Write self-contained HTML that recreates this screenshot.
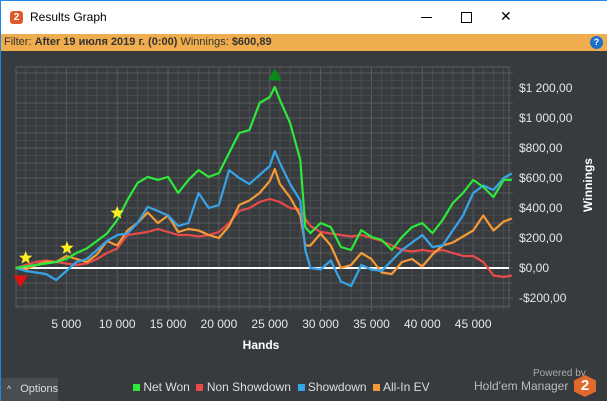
<!DOCTYPE html>
<html><head><meta charset="utf-8">
<style>
body{margin:0;width:607px;height:401px;overflow:hidden;font-family:"Liberation Sans","Noto Sans CJK SC",sans-serif;background:#383b3e;position:relative}
#title{position:absolute;left:0;top:0;width:607px;height:34px;background:#fff;border-top:1px solid #1e88e5;box-sizing:border-box}
#filter{position:absolute;left:0;top:34px;width:607px;height:17px;background:#f0ad4e;font-size:11px;line-height:17px;color:#333}
#lb{position:absolute;left:0;top:0;width:1px;height:401px;background:#1e88e5}
</style></head><body>
<div id="title">
 <div style="position:absolute;left:10px;top:10px;width:13px;height:13px;background:#e05a2b;border-radius:3px;color:#fff;font-size:10px;font-weight:bold;text-align:center;line-height:13px">2</div>
 <div style="position:absolute;left:30px;top:9px;font-size:12px;color:#000">Results Graph</div>
 <div style="position:absolute;left:421px;top:16px;width:11px;height:1px;background:#000"></div>
 <div style="position:absolute;left:461px;top:11px;width:9px;height:9px;border:1px solid #000"></div>
 <div style="position:absolute;left:500px;top:7px;font-size:14px;color:#000;font-weight:lighter">✕</div>
</div>
<div id="filter"><span style="margin-left:4px">Filter: <b>After 19 июля 2019 г. (0:00)</b> Winnings: <b>$600,89</b></span>
 <div style="position:absolute;left:590px;top:2px;width:13px;height:13px;border-radius:50%;background:#1e6fc9;color:#fff;font-size:9px;text-align:center;line-height:13px;font-weight:bold">?</div>
</div>
<div id="lb"></div>
<svg id="chart" width="607" height="401" style="position:absolute;left:0;top:0"></svg>
<div style="position:absolute;left:1px;top:378px;width:57px;height:23px;background:#4a4d50;color:#ddd;font-size:11px;line-height:23px"><span style="margin-left:6px;font-size:9px">^</span><span style="margin-left:9px">Options</span></div>
<div style="position:absolute;left:133px;top:380px;font-size:12px;color:#ddd;white-space:nowrap">
 <span><span style="display:inline-block;width:7px;height:7px;background:#2ee83a"></span> Net Won</span>&nbsp;
 <span><span style="display:inline-block;width:7px;height:7px;background:#e84a4a"></span> Non Showdown</span>&nbsp;
 <span><span style="display:inline-block;width:7px;height:7px;background:#37a3e8"></span> Showdown</span>&nbsp;
 <span><span style="display:inline-block;width:7px;height:7px;background:#f59a36"></span> All-In EV</span>
</div>
<div style="position:absolute;left:533px;top:368px;font-size:10px;color:#aaa">Powered by</div>
<div style="position:absolute;left:474px;top:379px;font-size:12px;color:#bbb">Hold'em Manager</div>
<div style="position:absolute;left:574px;top:375px;width:22px;height:22px;background:#e06a2b;color:#fff;font-weight:bold;font-size:15px;text-align:center;line-height:22px;clip-path:polygon(50% 0,100% 25%,100% 75%,50% 100%,0 75%,0 25%)">2</div>
<script>
const hands=[0,1000,2000,3000,4000,5000,6000,7000,8000,9000,10000,11000,12000,13000,14000,15000,16000,17000,18000,19000,20000,21000,22000,23000,24000,25000,25500,26000,27000,28000,28500,29000,30000,31000,32000,33000,34000,35000,36000,37000,38000,39000,40000,41000,42000,43000,44000,45000,46000,47000,48000,48800];
const netWon=[0,10,20,30,40,60,100,130,180,230,320,453,567,607,587,607,500,587,653,607,633,767,900,920,1100,1140,1207,1120,967,720,273,233,300,273,140,120,253,207,187,120,207,273,300,233,320,433,500,587,540,473,587,587];
const nonShowdown=[0,20,40,50,40,30,20,30,60,100,130,220,230,240,260,240,220,220,210,220,240,300,380,400,440,460,450,440,400,390,330,280,240,230,220,210,220,200,180,150,120,110,120,110,120,100,80,80,40,-50,-60,-50];
const showdown=[0,-20,-30,-40,-80,-20,40,60,120,180,220,230,300,407,380,350,280,300,500,400,420,653,600,560,620,680,780,700,560,450,120,0,-10,50,-90,-120,20,-10,-20,50,120,170,220,140,150,250,350,500,550,520,600,630];
const allInEV=[0,-10,20,40,40,80,60,40,90,180,150,250,300,370,300,350,240,260,250,220,200,280,420,450,500,580,660,560,470,350,150,150,230,150,0,20,100,60,-30,-40,40,60,10,90,150,170,210,250,350,250,310,330];
const xTicks=[5000,10000,15000,20000,25000,30000,35000,40000,45000];
const yTicks=[-200,0,200,400,600,800,1000,1200];
const yLabels=["-$200,00","$0,00","$200,00","$400,00","$600,00","$800,00","$1 000,00","$1 200,00"];
const stars=[[1000,67],[5060,133],[10000,367]];
const X=h=>15.5+h*0.01017, Y=v=>268-v*0.15;
const L=16,R=509,T=67,B=307;
const svg=document.getElementById('chart');
const NS='http://www.w3.org/2000/svg';
function mk(t,a,p){const e=document.createElementNS(NS,t);for(const k in a)e.setAttribute(k,a[k]);(p||svg).appendChild(e);return e;}
for(let h=0;h<=48000;h+=1000){const x=X(h);if(x<L)continue;
 const g=mk('line',{x1:x,x2:x,y1:T,y2:B+4,stroke:h%5000==0?'#5a5d60':'#4a4d50','stroke-width':1});
 }
for(let v=-250;v<=1300;v+=50){const y=Y(v);if(y<T||y>B)continue;
 const g=mk('line',{x1:L,x2:R+(v%100==0?4:2),y1:y,y2:y,stroke:v%100==0?'#55585b':'#45484b','stroke-width':1});
 }
const fr=mk('rect',{x:L,y:T,width:R-L,height:B-T,fill:'none',stroke:'#5a5d60'});

xTicks.forEach(h=>{const t=mk('text',{x:X(h),y:328,fill:'#e6e6e6','font-size':12,'text-anchor':'middle'});t.textContent=h.toLocaleString('en').replace(',',' ');
 });
yTicks.forEach((v,i)=>{const t=mk('text',{x:519,y:Y(v)+4,fill:'#e6e6e6','font-size':12});t.textContent=yLabels[i];
 });
const xt=mk('text',{x:261,y:349,fill:'#fff','font-size':12,'font-weight':'bold','text-anchor':'middle'});xt.textContent='Hands';

const yt=mk('text',{x:0,y:0,fill:'#fff','font-size':12,'font-weight':'bold','text-anchor':'middle',transform:'translate(592,185) rotate(-90)'});yt.textContent='Winnings';

const zl=mk('line',{x1:L,x2:R,y1:Y(0),y2:Y(0),stroke:'#fff','stroke-width':2});

function series(vals,color,name){const d=vals.map((v,i)=>(i?'L':'M')+X(hands[i]).toFixed(1)+','+Y(v).toFixed(1)).join('');
 const p=mk('path',{d:d,fill:'none',stroke:color,'stroke-width':2.2,'stroke-linejoin':'round'});
 }
series(nonShowdown,'#e84a4a','non-showdown-line');
series(allInEV,'#f59a36','all-in-ev-line');
series(showdown,'#37a3e8','showdown-line');
series(netWon,'#2ee83a','net-won-line');
function star(cx,cy){let pts=[];for(let i=0;i<10;i++){const r=i%2?3:7,a=-Math.PI/2+i*Math.PI/5;pts.push((cx+r*Math.cos(a)).toFixed(1)+','+(cy+r*Math.sin(a)).toFixed(1));}
 const s=mk('polygon',{points:pts.join(' '),fill:'#ffee22'});}
stars.forEach(s=>star(X(s[0]),Y(s[1])));
const mx=mk('polygon',{points:`${X(25500)-7},${Y(1290)+6} ${X(25500)+7},${Y(1290)+6} ${X(25500)},${Y(1290)-6}`,fill:'#0a8a1a'});

const mn=mk('polygon',{points:`${X(500)-7},${Y(-90)-6} ${X(500)+7},${Y(-90)-6} ${X(500)},${Y(-90)+6}`,fill:'#e01010'});

</script>
</body></html>
